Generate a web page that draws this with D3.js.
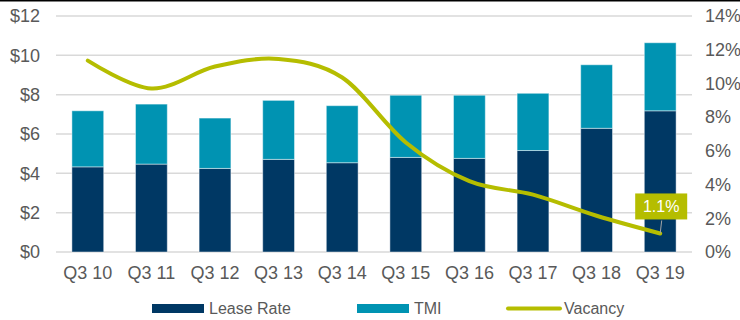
<!DOCTYPE html>
<html>
<head>
<meta charset="utf-8">
<script src="https://cdn.jsdelivr.net/npm/d3@7"></script>
<style>
  body { margin: 0; background: #fff; }
  svg { display: block; font-family: "Liberation Sans", Arial, sans-serif; }
</style>
</head>
<body>
<div id="chart"></div>
<script>
const quarters = ["Q3 10", "Q3 11", "Q3 12", "Q3 13", "Q3 14", "Q3 15", "Q3 16", "Q3 17", "Q3 18", "Q3 19"];
const leaseRate = [4.33, 4.47, 4.25, 4.71, 4.54, 4.81, 4.76, 5.16, 6.29, 7.18];
const tmi = [2.85, 3.05, 2.56, 3.0, 2.9, 3.16, 3.21, 2.91, 3.23, 3.46];
const vacancy = [11.35, 9.7, 11.0, 11.45, 10.35, 6.5, 4.2, 3.4, 2.15, 1.1];
const dollarTicks = [0, 2, 4, 6, 8, 10, 12];
const pctTicks = [0, 2, 4, 6, 8, 10, 12, 14];

const width = 740;
const height = 320;
const navy = "#003864";
const teal = "#0093B2";
const olive = "#B5BD00";
const textGray = "#595959";

const svg = d3.select("#chart").append("svg")
  .attr("width", width)
  .attr("height", height);

// top border line
svg.append("line")
  .attr("x1", 0).attr("x2", width)
  .attr("y1", 0.75).attr("y2", 0.75)
  .attr("stroke", "#000").attr("stroke-width", 1.5);

const x = d3.scaleBand()
  .domain(quarters)
  .range([56, 692])
  .paddingInner(0.5)
  .paddingOuter(0.25);

const y = d3.scaleLinear().domain([0, 12]).range([252, 16]);
const y2 = d3.scaleLinear().domain([0, 14]).range([252, 16]);

// gridlines
svg.append("g")
  .selectAll("line")
  .data(dollarTicks)
  .enter()
  .append("line")
  .attr("x1", 56).attr("x2", 692)
  .attr("y1", d => y(d)).attr("y2", d => y(d))
  .attr("stroke", "#D9D9D9")
  .attr("stroke-width", 1.5);

// left axis
const leftAxis = svg.append("g")
  .attr("transform", "translate(40,0)")
  .call(d3.axisLeft(y).tickValues(dollarTicks).tickSize(0).tickPadding(0).tickFormat(d => "$" + d));
leftAxis.select(".domain").remove();
leftAxis.selectAll("text")
  .attr("fill", textGray)
  .style("font-size", "18px")
  .style("font-family", "Liberation Sans, Arial, sans-serif");

// right axis
const rightAxis = svg.append("g")
  .attr("transform", "translate(705,0)")
  .call(d3.axisRight(y2).tickValues(pctTicks).tickSize(0).tickPadding(0).tickFormat(d => d + "%"));
rightAxis.select(".domain").remove();
rightAxis.selectAll("text")
  .attr("fill", textGray)
  .style("font-size", "18px")
  .style("font-family", "Liberation Sans, Arial, sans-serif");

// bottom axis
const bottomAxis = svg.append("g")
  .attr("transform", "translate(0,252)")
  .call(d3.axisBottom(x).tickSize(0).tickPadding(14));
bottomAxis.select(".domain").remove();
bottomAxis.selectAll("text")
  .attr("fill", textGray)
  .style("font-size", "18px")
  .style("font-family", "Liberation Sans, Arial, sans-serif");

// stacked bars
const rows = quarters.map((q, i) => ({ quarter: q, lease: leaseRate[i], tmi: tmi[i] }));
const stack = d3.stack().keys(["lease", "tmi"]);
const series = stack(rows);
const colors = { lease: navy, tmi: teal };

svg.append("g")
  .selectAll("g")
  .data(series)
  .enter()
  .append("g")
  .attr("fill", d => colors[d.key])
  .selectAll("rect")
  .data(d => d)
  .enter()
  .append("rect")
  .attr("x", d => x(d.data.quarter))
  .attr("y", d => y(d[1]))
  .attr("width", x.bandwidth())
  .attr("height", d => y(d[0]) - y(d[1]))
  .attr("stroke", "rgba(255,255,255,0.45)")
  .attr("stroke-width", 1);

// vacancy line
const cx = q => x(q) + x.bandwidth() / 2;
const line = d3.line()
  .x((d, i) => cx(quarters[i]))
  .y(d => y2(d))
  .curve(d3.curveCardinal.tension(0));

svg.append("path")
  .datum(vacancy)
  .attr("d", line)
  .attr("fill", "none")
  .attr("stroke", olive)
  .attr("stroke-width", 4)
  .attr("stroke-linecap", "round");

// data label for last point
const lastIdx = vacancy.length - 1;
const lx = cx(quarters[lastIdx]);
const ly = y2(vacancy[lastIdx]);
svg.append("line")
  .attr("x1", lx).attr("y1", ly)
  .attr("x2", lx + 1.5).attr("y2", ly - 13)
  .attr("stroke", "#A6A6A6")
  .attr("stroke-width", 1);
svg.append("rect")
  .attr("x", lx - 25)
  .attr("y", ly - 40)
  .attr("width", 52)
  .attr("height", 26)
  .attr("fill", olive);
svg.append("text")
  .attr("x", lx + 1)
  .attr("y", ly - 27)
  .attr("dy", "0.35em")
  .attr("text-anchor", "middle")
  .attr("fill", "#fff")
  .style("font-size", "16px")
  .text(vacancy[lastIdx] + "%");

// legend
const legend = svg.append("g").attr("transform", "translate(0,308.5)");
const legendItems = [
  { name: "Lease Rate", color: navy, type: "rect", x: 152 },
  { name: "TMI", color: teal, type: "rect", x: 357 },
  { name: "Vacancy", color: olive, type: "line", x: 506 }
];
legendItems.forEach(item => {
  if (item.type === "rect") {
    legend.append("rect")
      .attr("x", item.x).attr("y", -4.5)
      .attr("width", 52).attr("height", 9)
      .attr("fill", item.color);
    legend.append("text")
      .attr("x", item.x + 57).attr("y", 0)
      .attr("dy", "0.35em")
      .attr("fill", textGray)
      .style("font-size", "16px")
      .text(item.name);
  } else {
    legend.append("line")
      .attr("x1", item.x + 2).attr("x2", item.x + 54)
      .attr("y1", 0).attr("y2", 0)
      .attr("stroke", item.color)
      .attr("stroke-width", 4)
      .attr("stroke-linecap", "round");
    legend.append("text")
      .attr("x", item.x + 58).attr("y", 0)
      .attr("dy", "0.35em")
      .attr("fill", textGray)
      .style("font-size", "16px")
      .text(item.name);
  }
});
</script>
</body>
</html>
